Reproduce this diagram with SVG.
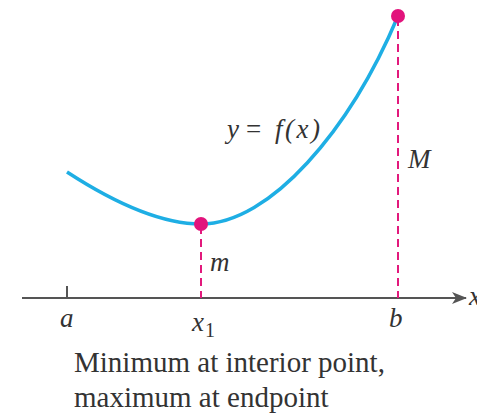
<svg xmlns="http://www.w3.org/2000/svg" width="477" height="417" viewBox="0 0 477 417">
<defs>
<marker id="arr" markerWidth="16" markerHeight="14" refX="14" refY="7" orient="auto" markerUnits="userSpaceOnUse">
<path d="M0,1 L15,7 L0,13 L4,7 Z" fill="#555"/>
</marker>
</defs>
<rect width="477" height="417" fill="#fff"/>
<g id="connectors">
<line x1="22" y1="298" x2="466" y2="298" stroke="#555" stroke-width="2.2" marker-end="url(#arr)"/>
<line x1="67" y1="286" x2="67" y2="298" stroke="#555" stroke-width="2"/>
<line x1="201" y1="226" x2="201" y2="298" stroke="#e2197c" stroke-width="2" stroke-dasharray="8 5"/>
<line x1="398" y1="18" x2="398" y2="298" stroke="#e2197c" stroke-width="2" stroke-dasharray="8 5"/>
<path d="M67,172 C110,200 160,224 201,224 C270,224 350,130 398,16" fill="none" stroke="#1eaee4" stroke-width="3.5"/>
</g>
<g id="min-point"><circle fill="#e2137c" cx="201" cy="224" r="7"/></g>
<g id="max-point"><circle fill="#e2137c" cx="398" cy="16" r="7"/></g>
<g id="labels" font-family="Liberation Serif, Times New Roman, serif" font-style="italic" font-size="27" fill="#333">
<text x="227" y="138">y<tspan x="246" font-style="normal">=</tspan><tspan x="275" letter-spacing="2.5">f(x)</tspan></text>
<text x="408" y="168">M</text>
<text x="210" y="271">m</text>
<text x="60" y="327">a</text>
<text x="192" y="331">x<tspan font-style="normal" font-size="20" dx="1" dy="6">1</tspan></text>
<text x="389" y="327">b</text>
<text x="469" y="305">x</text>
</g>
<g id="caption" font-family="Liberation Serif, Times New Roman, serif" font-size="29" fill="#333">
<text x="74" y="372">Minimum at interior point,</text>
<text x="74" y="407">maximum at endpoint</text>
</g>
</svg>
